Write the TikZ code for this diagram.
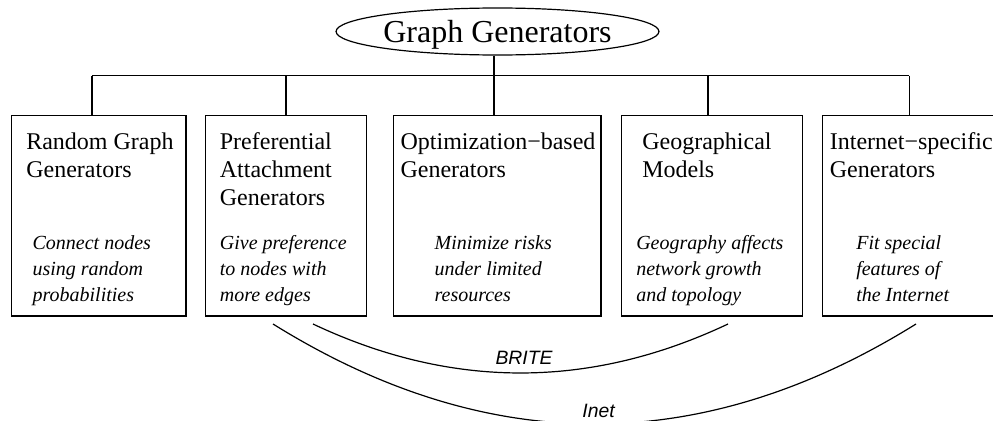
\documentclass[tikz,border=0pt]{standalone}
\usepackage{fontspec}
\setmainfont{Liberation Serif}
\newfontfamily\arcfont{Liberation Sans}
\usetikzlibrary{shapes.geometric}
\usetikzlibrary{positioning}

\tikzset{
  genbox/.style={draw,rectangle,inner sep=0pt,minimum height=150.2pt},
  headtext/.style={anchor=base west,inner sep=0pt,align=left,font=\fontsize{18}{20.8}\selectfont},
  desctext/.style={anchor=base west,inner sep=0pt,align=left,font=\fontsize{15}{19.4}\selectfont\itshape},
  arclabel/.style={anchor=base,inner sep=0pt,font=\arcfont\itshape\fontsize{14.5}{16}\selectfont}
}

\begin{document}
\begin{tikzpicture}[x=0.75pt,y=-0.75pt,line width=0.9pt]
  \useasboundingbox (0,0) rectangle (993,421);

  \node[draw,ellipse,inner sep=0pt,minimum width=225.75pt,minimum height=35.25pt,text depth=0pt,font=\fontsize{24}{28}\selectfont] (gg) at (497.5,31.5) {Graph Generators};

  \node[genbox,minimum width=130.7pt] (random) at (98.85,215.85) {};
  \node[genbox,minimum width=120.75pt] (pref) at (286.2,215.85) {};
  \node[genbox,minimum width=155.5pt] (optim) at (497.35,215.85) {};
  \node[genbox,minimum width=135.5pt] (geo) at (712,215.85) {};
  \node[genbox,minimum width=130.5pt] (inet) at (909.3,215.85) {};

  % base of the last line
  \node[headtext] (random-h) at (25.7,177.7) {Random Graph\\Generators};
  \node[headtext] (pref-h) at (219.3,205.4) {Preferential\\Attachment\\Generators};
  \node[headtext] (optim-h) at (400,177.7) {Optimization−based\\Generators};
  \node[headtext] (geo-h) at (641.7,177.7) {Geographical\\Models};
  \node[headtext] (inet-h) at (829.3,177.7) {Internet−specific\\Generators};

  \node[desctext] (random-d) at (32,301.7) {Connect nodes\\using random\\probabilities};
  \node[desctext] (pref-d) at (219.3,301.7) {Give preference\\to nodes with\\more edges};
  \node[desctext] (optim-d) at (434,301.7) {Minimize risks\\under limited\\resources};
  \node[desctext] (geo-d) at (635.7,301.7) {Geography affects\\network growth\\and topology};
  \node[desctext] (inet-d) at (855.7,301.7) {Fit special\\features of\\the Internet};

  % tree lines
  \coordinate (bus1) at (92,75.7);
  \coordinate (bus2) at (286,75.7);
  \coordinate (bus3) at (494,75.7);
  \coordinate (bus4) at (708,75.7);
  \coordinate (bus5) at (909.3,75.7);
  \draw (bus1) -- (bus5);
  \draw (bus3 |- gg.south) -- (bus3 |- optim.north);
  \draw (bus1) -- (bus1 |- random.north);
  \draw (bus2) -- (bus2 |- pref.north);
  \draw (bus4) -- (bus4 |- geo.north);
  \draw (bus5) -- (bus5 |- inet.north);

  % arcs
  \coordinate (brite-a) at (313,324);
  \coordinate (brite-b) at (728,324);
  \coordinate (inet-a) at (273,324);
  \coordinate (inet-b) at (916,324);
  \draw (brite-a) .. controls (451.3,389.3) and (589.7,389.3) .. (brite-b);
  \draw (inet-a) .. controls (487.3,457.3) and (701.7,457.3) .. (inet-b);
  \node[arclabel] (brite-l) at (524,364) {BRITE};
  \node[arclabel] (inet-l) at (598.5,417) {Inet};
\end{tikzpicture}
\end{document}
